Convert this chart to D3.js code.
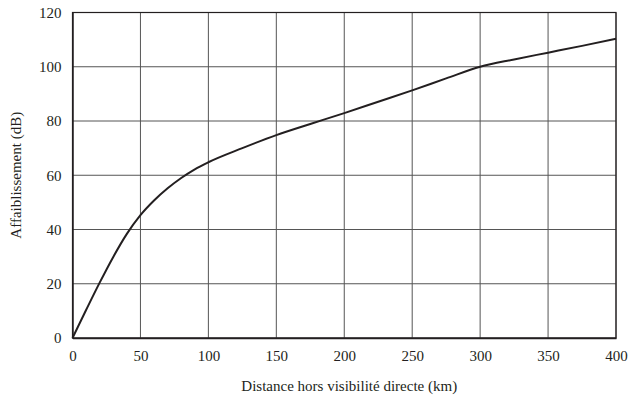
<!DOCTYPE html>
<html>
<head>
<meta charset="utf-8">
<script src="https://cdn.jsdelivr.net/npm/d3@7"></script>
<style>
  body { margin: 0; background: #fff; }
  svg { display: block; }
</style>
</head>
<body>
<svg id="chart" width="630" height="398" font-family="Liberation Serif"></svg>
<script>
// Data
const distanceKm = [0, 10, 20, 30, 40, 50, 60, 70, 80, 90, 100, 125, 150, 175, 200, 225, 250, 275, 300, 325, 350, 375, 400];
const attenuationDb = [0, 10.3, 20.4, 29.9, 38.4, 45.3, 50.7, 55.2, 59, 62.2, 64.8, 70, 74.8, 78.9, 82.9, 87.1, 91.3, 95.7, 100, 102.7, 105.2, 107.7, 110.3];
const xTicks = [0, 50, 100, 150, 200, 250, 300, 350, 400];
const yTicks = [0, 20, 40, 60, 80, 100, 120];
const xLabel = "Distance hors visibilité directe (km)";
const yLabel = "Affaiblissement (dB)";

const FONT = "Liberation Serif";
const INK = "#231f20";

const svg = d3.select("#chart");
const m = { left: 72.5, right: 616, top: 12.5, bottom: 338 };

const x = d3.scaleLinear().domain([0, 400]).range([m.left, m.right]);
const y = d3.scaleLinear().domain([0, 120]).range([m.bottom, m.top]);

// grid
const g = svg.append("g");
g.selectAll(".vgrid").data(xTicks).enter().append("line")
  .attr("x1", d => x(d)).attr("x2", d => x(d))
  .attr("y1", m.top).attr("y2", m.bottom)
  .attr("stroke", "#555").attr("stroke-width", 1);
g.selectAll(".hgrid").data(yTicks).enter().append("line")
  .attr("x1", m.left).attr("x2", m.right)
  .attr("y1", d => y(d)).attr("y2", d => y(d))
  .attr("stroke", "#555").attr("stroke-width", 1);

// frame
svg.append("rect")
  .attr("x", m.left).attr("y", m.top)
  .attr("width", m.right - m.left).attr("height", m.bottom - m.top)
  .attr("fill", "none").attr("stroke", INK).attr("stroke-width", 1.2);

// axes (labels only)
const xAxis = d3.axisBottom(x).tickValues(xTicks).tickSize(0).tickPadding(12);
const xg = svg.append("g").attr("transform", `translate(0,${m.bottom})`).call(xAxis);
const yAxis = d3.axisLeft(y).tickValues(yTicks).tickSize(0).tickPadding(11);
const yg = svg.append("g").attr("transform", `translate(${m.left},0)`).call(yAxis);
[xg, yg].forEach(a => {
  a.attr("font-family", FONT).attr("font-size", 15);
  a.select(".domain").attr("stroke", INK).attr("stroke-width", 1.5);
  a.selectAll("text").attr("font-family", FONT).attr("font-size", 15).attr("fill", INK);
});

// curve
const pts = distanceKm.map((d, i) => [d, attenuationDb[i]]);
svg.append("path")
  .datum(pts)
  .attr("fill", "none")
  .attr("stroke", INK)
  .attr("stroke-width", 2)
  .attr("d", d3.line().x(d => x(d[0])).y(d => y(d[1])).curve(d3.curveMonotoneX));

// titles
svg.append("text")
  .attr("x", (m.left + m.right) / 2 + 5).attr("y", 391)
  .attr("text-anchor", "middle")
  .attr("font-family", FONT).attr("font-size", 15).attr("fill", INK)
  .text(xLabel);
svg.append("text")
  .attr("transform", `translate(21,${(m.top + m.bottom) / 2}) rotate(-90)`)
  .attr("text-anchor", "middle")
  .attr("font-family", FONT).attr("font-size", 15).attr("fill", INK)
  .text(yLabel);
</script>
</body>
</html>
